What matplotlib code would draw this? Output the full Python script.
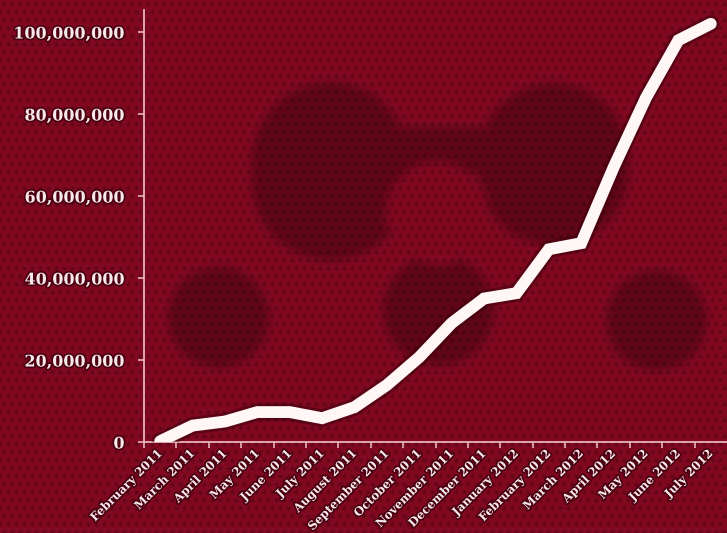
import numpy as np
import matplotlib
matplotlib.use("Agg")
import matplotlib.pyplot as plt
from matplotlib import patheffects as pe
from matplotlib.ticker import FuncFormatter, FixedLocator

# monthly totals
months = ["February 2011", "March 2011", "April 2011", "May 2011", "June 2011",
          "July 2011", "August 2011", "September 2011", "October 2011",
          "November 2011", "December 2011", "January 2012", "February 2012",
          "March 2012", "April 2012", "May 2012", "June 2012", "July 2012"]
totals = [0.2e6, 4.0e6, 5.0e6, 7.3e6, 7.3e6, 5.8e6, 8.5e6, 13.9e6, 20.7e6,
          29.0e6, 35.0e6, 36.3e6, 47.0e6, 48.5e6, 67.0e6, 84.0e6, 98.0e6, 102.0e6]
y_ticks = [0, 20e6, 40e6, 60e6, 80e6, 100e6]

W, H = 727, 533
fig = plt.figure(figsize=(W / 100, H / 100), dpi=100)

# --- background: red dotted texture with the faint logo behind ---
yy, xx = np.mgrid[0:H, 0:W].astype(float)


def disk(cx, cy, r):
    return np.hypot(xx - cx, yy - cy) - r


def capsule(x0, y0, x1, y1, r):
    vx, vy = x1 - x0, y1 - y0
    t = np.clip(((xx - x0) * vx + (yy - y0) * vy) / (vx * vx + vy * vy), 0, 1)
    return np.hypot(xx - (x0 + t * vx), yy - (y0 + t * vy)) - r


d = np.minimum.reduce([
    capsule(330, 160, 330, 182, 78), capsule(553, 158, 553, 170, 75),
    capsule(330, 150, 553, 150, 24),
    disk(218, 317, 50), disk(438, 310, 55), disk(656, 320, 50),
])
d = np.maximum(d, -disk(437, 213, 52))
logo = np.clip(0.5 - d / 12, 0, 1)

row = (yy // 8) % 2
dx = (xx + row * 4) % 8 - 4
dy = yy % 8 - 4
dots = np.clip(1.8 - np.hypot(dx, dy) / 1.5, 0, 1)

base = np.array([128, 9, 32]) / 255
img = np.ones((H, W, 3)) * base
img *= (1 - 0.22 * dots)[..., None]
img *= (1 - 0.24 * logo)[..., None]
fig.figimage(img, 0, 0, zorder=-1)

# --- chart ---
ax = fig.add_axes([144 / W, (H - 442) / H, (W - 144) / W, 432 / H])
ax.set_facecolor("none")
x = np.arange(len(months))
ax.plot(x, totals, color="#fff6f6", lw=8.5, solid_capstyle="round",
        solid_joinstyle="miter", zorder=3,
        path_effects=[pe.Stroke(linewidth=12.5, foreground="#3a000c", alpha=0.5),
                      pe.Normal()])

ax.set_xlim(-0.5, 17.5)
ax.set_ylim(0, 432 / 4.1 * 1e6)

spine_col = "#e8b4ba"
for side in ["top", "right"]:
    ax.spines[side].set_visible(False)
for side in ["left", "bottom"]:
    ax.spines[side].set_color(spine_col)
    ax.spines[side].set_linewidth(1.3)

txt_col = "#f7e9e9"
glow = [pe.withStroke(linewidth=2.5, foreground="#4a0012")]

ax.xaxis.set_major_locator(FixedLocator(np.arange(-0.5, 17, 1)))
ax.xaxis.set_minor_locator(FixedLocator(x))
ax.xaxis.set_major_formatter(FuncFormatter(lambda v, p: ""))
ax.set_xticklabels(months, minor=True)
ax.tick_params(axis="x", which="major", direction="out", length=4,
               color=spine_col, width=1.2)
ax.tick_params(axis="x", which="minor", length=0, pad=7)
for lab in ax.get_xticklabels(minor=True):
    lab.set_rotation(45)
    lab.set_ha("right")
    lab.set_va("center")
    lab.set_rotation_mode("anchor")
    lab.set_family("DejaVu Serif")
    lab.set_fontweight("bold")
    lab.set_fontsize(8.5)
    lab.set_color(txt_col)
    lab.set_path_effects(glow)

ax.set_yticks(y_ticks)
ax.yaxis.set_major_formatter(FuncFormatter(lambda v, p: f"{int(v):,}"))
ax.tick_params(axis="y", direction="out", length=4, color=spine_col, width=1.2,
               pad=10)
for lab in ax.get_yticklabels():
    lab.set_family("DejaVu Serif")
    lab.set_fontweight("bold")
    lab.set_fontsize(11.5)
    lab.set_color(txt_col)
    lab.set_path_effects(glow)

fig.savefig("out.png", dpi=100)
